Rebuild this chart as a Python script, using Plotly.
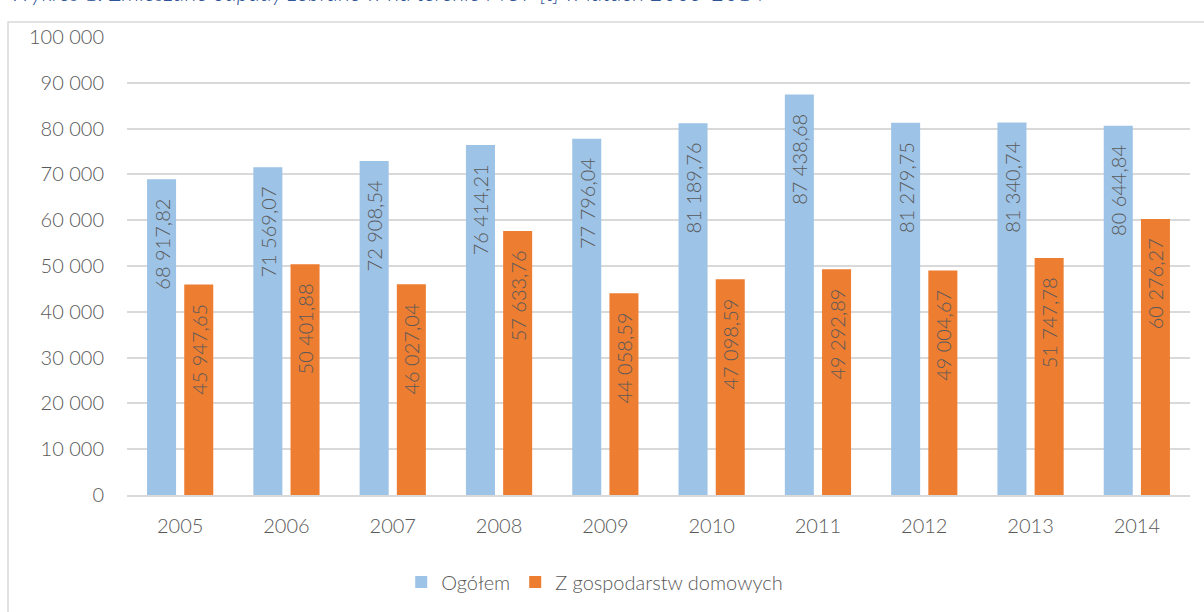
import plotly.graph_objects as go

years = ["2005", "2006", "2007", "2008", "2009", "2010", "2011", "2012", "2013", "2014"]
ogolem = [68917.82, 71569.07, 72908.54, 76414.21, 77796.04, 81189.76, 87438.68, 81279.75, 81340.74, 80644.84]
gospodarstwa = [45947.65, 50401.88, 46027.04, 57633.76, 44058.59, 47098.59, 49292.89, 49004.67, 51747.78, 60276.27]
series_names = ["Ogółem", "Z gospodarstw domowych"]
title_text = "Wykres 1. Zmieszane odpady zebrane w na terenie MOF [t] w latach 2005-2014"

W, H = 1204, 612
L, R, T, B = 127, 14, 37, 117
pw = W - L - R
ph = H - T - B

FONT = "Lato"
GRAY = "#595959"
NB = "\u00a0"

fig = go.Figure()
for name, vals, col in [(series_names[0], ogolem, "#9DC3E6"), (series_names[1], gospodarstwa, "#ED7D31")]:
    fig.add_trace(go.Bar(
        x=years, y=vals, name=name,
        marker=dict(color=col, line=dict(width=0)),
        texttemplate="%{y:,.2f}" + NB * 3,
        textposition="inside",
        insidetextanchor="end",
        textangle=-90,
        constraintext="none",
        textfont=dict(family=FONT, size=20, color=GRAY, weight=300),
        hoverinfo="skip",
    ))

fig.update_layout(
    width=W, height=H,
    margin=dict(l=L, r=R, t=T, b=B, autoexpand=False),
    paper_bgcolor="white", plot_bgcolor="white",
    separators=", ",
    barmode="group", bargap=0.30, bargroupgap=0.22,
    font=dict(family=FONT, size=20, color=GRAY, weight=300),
    showlegend=True,
    legend=dict(orientation="h", x=0.44, xanchor="center", y=(H - B - 582) / ph, yanchor="middle",
                font=dict(family=FONT, size=20, color=GRAY, weight=300), itemwidth=30, traceorder="normal"),
    xaxis=dict(showgrid=False, showline=True, linecolor="#D9D9D9", linewidth=1.5, ticks="", automargin=False,
               tickfont=dict(family=FONT, size=20, color=GRAY, weight=300), ticklabelstandoff=12),
    yaxis=dict(range=[0, 100000], dtick=10000, tickformat=",d", showgrid=True, gridcolor="#D9D9D9",
               gridwidth=1.5, zeroline=False, showline=False, ticks="", automargin=False,
               tickfont=dict(family=FONT, size=20, color=GRAY, weight=300), ticklabelstandoff=22),
    annotations=[dict(
        text=title_text, xref="paper", yref="paper",
        x=(8 - L) / pw, xanchor="left", y=1 + (T + 8) / ph, yanchor="middle",
        showarrow=False, font=dict(family=FONT, size=23, color="#2F5597", style="italic"),
    )],
    shapes=[dict(type="rect", xref="paper", yref="paper",
                 x0=(8 - L) / pw, x1=1.1, y0=-0.4, y1=1 + (T - 22) / ph,
                 line=dict(color="#D9D9D9", width=1.5), fillcolor="rgba(0,0,0,0)", layer="below")],
)

fig.write_html("out.html", config={"displayModeBar": False},
               post_script="document.body.style.margin='0';")
